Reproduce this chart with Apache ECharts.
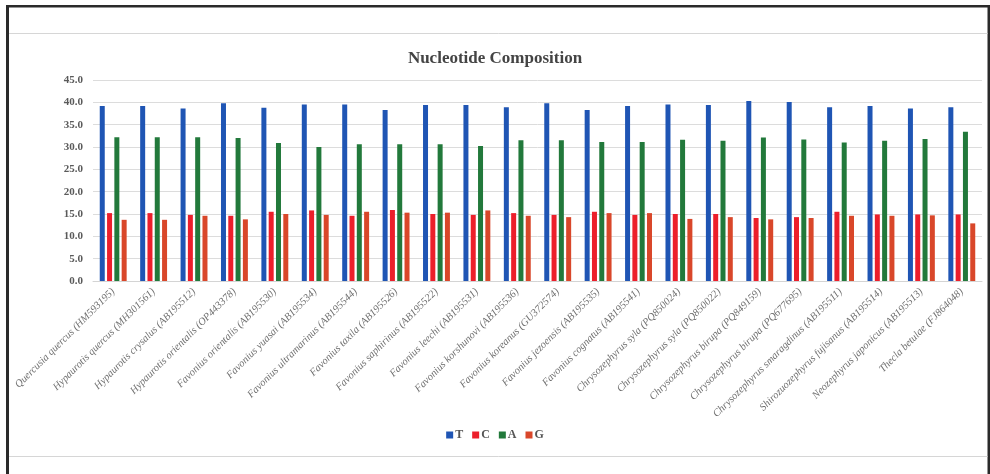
<!DOCTYPE html>
<html>
<head>
<meta charset="utf-8">
<script src="https://cdn.jsdelivr.net/npm/echarts@6/dist/echarts.min.js"></script>
<style>
  html, body { margin: 0; padding: 0; background: #ffffff; }
  #chart { width: 990px; height: 474px; }
</style>
</head>
<body>
<div id="chart"></div>
<script>
// Sample labels (species and accession numbers)
const categories = [
  'Quercusia quercus (HM593195)',
  'Hypaurotis quercus (MH301561)',
  'Hypaurotis crysalus (AB195512)',
  'Hypaurotis orientalis (OP443378)',
  'Favonius orientalis (AB195530)',
  'Favonius yuasai (AB195534)',
  'Favonius ultramarinus (AB195544)',
  'Favonius taxila (AB195526)',
  'Favonius saphirinus (AB195522)',
  'Favonius leechi (AB195531)',
  'Favonius korshunovi (AB195536)',
  'Favonius koreanus (GU372574)',
  'Favonius jezoensis (AB195535)',
  'Favonius cognatus (AB195541)',
  'Chrysozephyrus syla (PQ850024)',
  'Chrysozephyrus syla (PQ850022)',
  'Chrysozephyrus birupa (PQ849159)',
  'Chrysozephyrus birupa (PQ677695)',
  'Chrysozephyrus smaragdinus (AB195511)',
  'Shirozuozephyrus fujisanus (AB195514)',
  'Neozephyrus japonicus (AB195513)',
  'Thecla betulae (FJ864048)'
];

// Base composition (%)
const valuesT = [39.2, 39.2, 38.6, 39.8, 38.8, 39.5, 39.5, 38.3, 39.4, 39.4, 38.9, 39.8, 38.3, 39.2, 39.5, 39.4, 40.3, 40.1, 38.9, 39.2, 38.6, 38.9];
const valuesC = [15.2, 15.2, 14.8, 14.6, 15.5, 15.8, 14.6, 15.9, 15.0, 14.8, 15.2, 14.8, 15.5, 14.8, 15.0, 15.0, 14.1, 14.3, 15.5, 14.9, 14.9, 14.9];
const valuesA = [32.2, 32.2, 32.2, 32.0, 30.9, 30.0, 30.6, 30.6, 30.6, 30.2, 31.5, 31.5, 31.1, 31.1, 31.6, 31.4, 32.1, 31.7, 31.0, 31.4, 31.8, 33.4];
const valuesG = [13.7, 13.7, 14.6, 13.8, 15.0, 14.8, 15.5, 15.3, 15.3, 15.8, 14.6, 14.3, 15.2, 15.2, 13.9, 14.3, 13.8, 14.1, 14.6, 14.6, 14.7, 12.9];

const seriesNames = ['T', 'C', 'A', 'G'];
const seriesColors = ['#1f55b4', '#ec1f2b', '#22793b', '#d9472a'];
const yTicks = { min: 0, max: 45, interval: 5 };

const serif = '"Liberation Serif", "DejaVu Serif", serif';
const chart = echarts.init(document.getElementById('chart'), null, { renderer: 'canvas' });

const seriesData = [valuesT, valuesC, valuesA, valuesG];

chart.setOption({
  backgroundColor: '#ffffff',
  animation: false,
  title: {
    text: 'Nucleotide Composition',
    left: 'center',
    top: 45,
    textStyle: { fontFamily: serif, fontSize: 17, fontWeight: 'bold', color: '#444444' }
  },
  legend: {
    data: seriesNames,
    bottom: 28,
    left: 'center',
    icon: 'rect',
    itemWidth: 7,
    itemHeight: 7,
    itemGap: 9,
    textStyle: { fontFamily: serif, fontSize: 12, fontWeight: 'bold', color: '#555555', padding: [0, 0, 0, -3] }
  },
  grid: { left: 93, right: 8, top: 80, bottom: 193 },
  xAxis: {
    type: 'category',
    data: categories,
    axisLine: { lineStyle: { color: '#d4d4d4', width: 1 } },
    axisTick: { show: false },
    axisLabel: {
      rotate: 45,
      interval: 0,
      margin: 9,
      fontFamily: serif,
      fontStyle: 'italic',
      fontSize: 10.5,
      color: '#707070'
    }
  },
  yAxis: {
    type: 'value',
    min: yTicks.min,
    max: yTicks.max,
    interval: yTicks.interval,
    axisLine: { show: false },
    axisTick: { show: false },
    splitLine: { lineStyle: { color: '#dcdcdc', width: 1 } },
    axisLabel: {
      margin: 10,
      fontFamily: serif,
      fontSize: 11,
      fontWeight: 'bold',
      color: '#5a5a5a',
      formatter: v => v.toFixed(1)
    }
  },
  series: seriesNames.map((name, i) => ({
    name: name,
    type: 'bar',
    data: seriesData[i],
    barWidth: 5,
    barGap: '46%',
    itemStyle: { color: seriesColors[i] }
  })),
  graphic: [
    // outer frame
    { type: 'rect', silent: true, shape: { x: 6, y: 5, width: 3, height: 469 }, style: { fill: '#2a2a2a' } },
    { type: 'rect', silent: true, shape: { x: 6, y: 5, width: 984, height: 2.5 }, style: { fill: '#2a2a2a' } },
    { type: 'rect', silent: true, shape: { x: 987.5, y: 5, width: 2.5, height: 469 }, style: { fill: '#2a2a2a' } },
    // inner separators
    { type: 'line', silent: true, shape: { x1: 9, y1: 33.5, x2: 987.5, y2: 33.5 }, style: { stroke: '#d6d6d6', lineWidth: 1 } },
    { type: 'line', silent: true, shape: { x1: 9, y1: 456.5, x2: 987.5, y2: 456.5 }, style: { stroke: '#d6d6d6', lineWidth: 1 } }
  ]
});
</script>
</body>
</html>
